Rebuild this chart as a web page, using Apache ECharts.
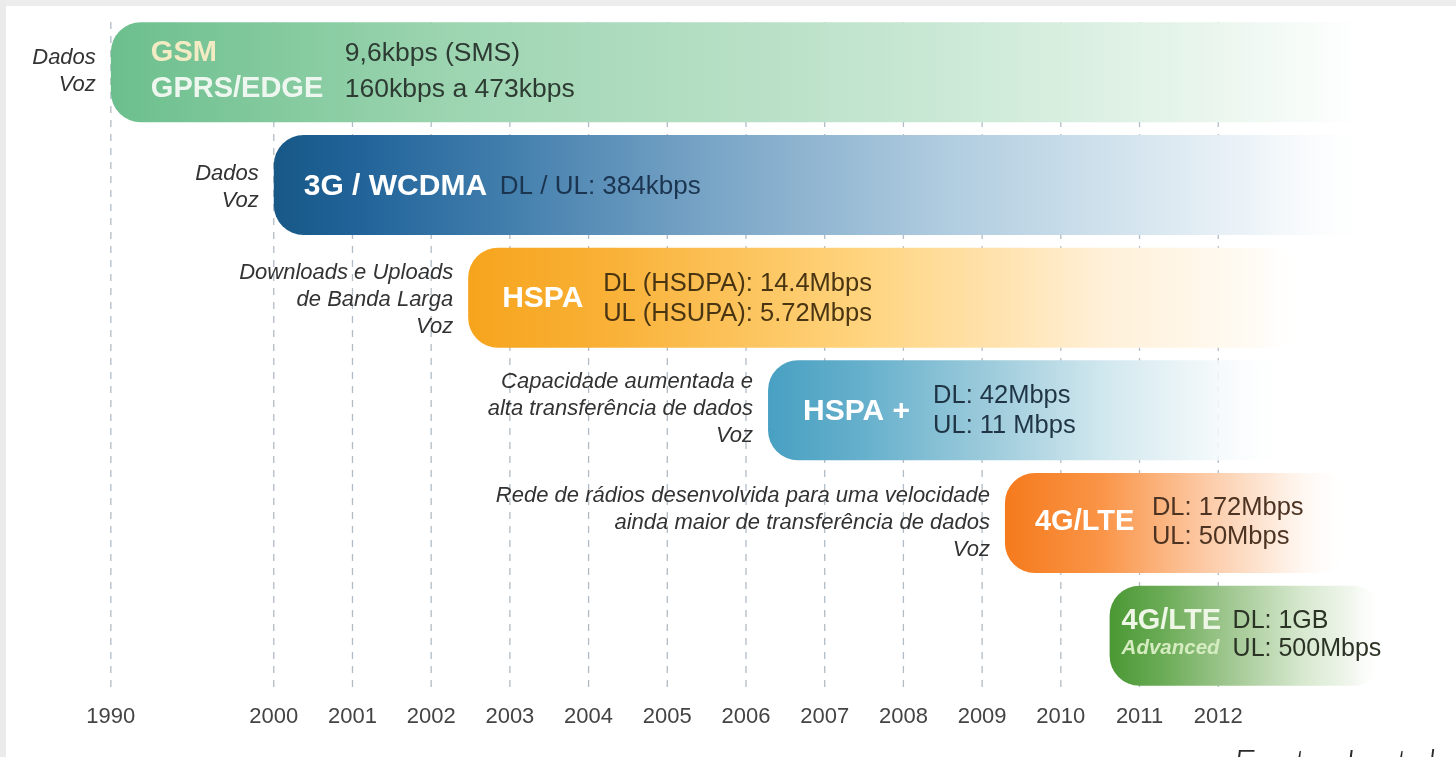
<!DOCTYPE html>
<html><head><meta charset="utf-8">
<script src="https://cdn.jsdelivr.net/npm/echarts@6/dist/echarts.min.js"></script>
<style>html,body{margin:0;padding:0;background:#fff}#c{width:1456px;height:757px}</style>
</head><body><div id="c"></div><script>
// ---- data ----
const tickYears = [1990, 2000, 2001, 2002, 2003, 2004, 2005, 2006, 2007, 2008, 2009, 2010, 2011, 2012];
const techIds = ['GSM', '3G', 'HSPA', 'HSPA+', '4G/LTE', '4G/LTE Advanced'];
const techNames = [['GSM', 'GPRS/EDGE'], ['3G / WCDMA'], ['HSPA'], ['HSPA +'], ['4G/LTE'], ['4G/LTE', 'Advanced']];
const speeds = [
  ['9,6kbps (SMS)', '160kbps a 473kbps'],
  ['DL / UL: 384kbps'],
  ['DL (HSDPA): 14.4Mbps', 'UL (HSUPA): 5.72Mbps'],
  ['DL: 42Mbps', 'UL: 11 Mbps'],
  ['DL: 172Mbps', 'UL: 50Mbps'],
  ['DL: 1GB', 'UL: 500Mbps']
];
const services = [
  ['Dados', 'Voz'],
  ['Dados', 'Voz'],
  ['Downloads e Uploads', 'de Banda Larga', 'Voz'],
  ['Capacidade aumentada e', 'alta transferência de dados', 'Voz'],
  ['Rede de rádios desenvolvida para uma velocidade', 'ainda maior de transferência de dados', 'Voz'],
  []
];
const startYears = [1990, 2000, 2002.47, 2006.28, 2009.29, 2010.62];
const endYears = [2014.2, 2014.1, 2013.1, 2013, 2013.7, 2014.1];

// ---- styles (separate from data) ----
const FONT = '"Liberation Sans", Arial, Helvetica, sans-serif';
const barStyles = [
  { stops: [[0, '#6cbf8d'], [0.27, '#9dd5b1'], [0.5, '#b8e0c6'], [0.66, '#cbe9d6'], [0.85, '#e8f5ec'], [0.95, '#fafdfb'], [1, 'rgba(255,255,255,0)']],
    titleColors: ['#f3ebc4', '#eef7ef'], titleFonts: [[29, 'normal'], [29, 'normal']], titleDx: 40, specDx: 234, gap: 36, shift: -1, spec: '#2d3b33', specSize: 26.5, svcShift: -1 },
  { stops: [[0, '#175887'], [0.08, '#22649a'], [0.2, '#3f7cab'], [0.39, '#78a4c6'], [0.61, '#b1cde0'], [0.75, '#cfe1ec'], [0.89, '#eff5f9'], [1, 'rgba(255,255,255,0)']],
    titleColors: ['#ffffff'], titleFonts: [[30, 'normal']], titleDx: 30, specDx: 226, gap: 30, shift: 2, spec: '#1b3550', specSize: 26, svcShift: 2 },
  { stops: [[0, '#f6a41d'], [0.16, '#f9b035'], [0.47, '#ffd47e'], [0.64, '#ffe3b0'], [0.76, '#fff0d8'], [0.94, '#fffbf4'], [1, 'rgba(255,255,255,0)']],
    titleColors: ['#ffffff'], titleFonts: [[30, 'normal']], titleDx: 34, specDx: 135, gap: 30, shift: 1, spec: '#4a3512', specSize: 25.5, svcShift: 2 },
  { stops: [[0, '#48a0c2'], [0.18, '#66b0cc'], [0.44, '#a2cedd'], [0.64, '#d2e8ef'], [0.83, '#f2f8fa'], [1, 'rgba(255,255,255,0)']],
    titleColors: ['#ffffff'], titleFonts: [[30, 'normal']], titleDx: 35, specDx: 165, gap: 30, shift: 1, spec: '#1f3444', specSize: 25.5, svcShift: -1 },
  { stops: [[0, '#f57a1c'], [0.28, '#fa9548'], [0.57, '#fcc9a4'], [0.8, '#feeee2'], [1, 'rgba(255,255,255,0)']],
    titleColors: ['#ffffff'], titleFonts: [[29, 'normal']], titleDx: 30, specDx: 147, gap: 29, shift: -1, spec: '#4d3322', specSize: 25.5, svcShift: 0 },
  { stops: [[0, '#4a9834'], [0.19, '#6aab55'], [0.46, '#a5ca96'], [0.7, '#d6e8ce'], [0.89, '#f2f7ef'], [1, 'rgba(255,255,255,0)']],
    titleColors: ['#eef6e6', '#d5ecc0'], titleFonts: [[29, 'normal'], [20.5, 'italic']], titleDx: 12, specDx: 123, gap: 28, shift: -1, spec: '#2b3325', specSize: 25, svcShift: 0 }
];

// compressed scale before 2000 (the 1990 tick sits close to 2000)
function toAxis(y) { return y < 2000 ? 2000 - (2000 - y) * 0.207 : y; }
const tickPos = tickYears.map(toAxis);

function renderLine(params, api) {
  const cs = params.coordSys;
  const x = api.coord([api.value(0), 0])[0];
  return { type: 'line', shape: { x1: x, y1: cs.y + 6, x2: x, y2: cs.y + cs.height - 3 },
    style: { stroke: '#b2bcc6', lineWidth: 1.3, lineDash: [7, 7] } };
}

function renderBar(params, api) {
  const i = api.value(0);
  const s = barStyles[i];
  const pL = api.coord([api.value(1), i]);
  const pR = api.coord([api.value(2), i]);
  const band = api.size([0, 1])[1];
  const h = band * 0.888;
  const x0 = pL[0], cy = pL[1];
  const children = [];
  children.push({
    type: 'rect',
    shape: { x: x0, y: cy - h / 2, width: pR[0] - x0, height: h, r: 30 },
    style: { fill: new echarts.graphic.LinearGradient(0, 0, 1, 0, s.stops.map(st => ({ offset: st[0], color: st[1] }))) }
  });
  const tn = techNames[i];
  tn.forEach((t, k) => {
    const off = (k - (tn.length - 1) / 2) * s.gap + s.shift;
    children.push({ type: 'text', x: x0 + s.titleDx, y: cy + off,
      style: { text: t, fill: s.titleColors[k], fontSize: s.titleFonts[k][0], fontStyle: s.titleFonts[k][1], fontWeight: 'bold', fontFamily: FONT, align: 'left', verticalAlign: 'middle' } });
  });
  const sp = speeds[i];
  sp.forEach((t, k) => {
    const off = (k - (sp.length - 1) / 2) * s.gap + s.shift;
    children.push({ type: 'text', x: x0 + s.specDx, y: cy + off,
      style: { text: t, fill: s.spec, fontSize: s.specSize, fontFamily: FONT, align: 'left', verticalAlign: 'middle' } });
  });
  const sv = services[i];
  sv.forEach((t, k) => {
    const off = (k - (sv.length - 1) / 2) * 27 + s.svcShift;
    children.push({ type: 'text', x: x0 - 15, y: cy + off,
      style: { text: t, fill: '#333333', fontSize: 22, fontStyle: 'italic', fontFamily: FONT, align: 'right', verticalAlign: 'middle' } });
  });
  return { type: 'group', children };
}

const chart = echarts.init(document.getElementById('c'), null, { renderer: 'canvas' });
chart.setOption({
  animation: false,
  backgroundColor: '#ffffff',
  grid: { left: 77, right: 41, top: 16, bottom: 65 },
  xAxis: {
    type: 'value', min: 1997.5, max: 2014.5,
    axisLine: { show: false }, axisTick: { show: false }, splitLine: { show: false },
    axisLabel: {
      customValues: tickPos,
      formatter: v => { const k = tickPos.findIndex(p => Math.abs(p - v) < 1e-6); return k >= 0 ? String(tickYears[k]) : ''; },
      fontSize: 22, color: '#444', margin: 14, fontFamily: FONT
    }
  },
  yAxis: { type: 'category', data: techIds, inverse: true, show: false },
  graphic: [
    { type: 'rect', left: 0, top: 0, shape: { width: 1456, height: 6 }, style: { fill: '#ededed' }, silent: true },
    { type: 'rect', left: 0, top: 0, shape: { width: 6, height: 757 }, style: { fill: '#ebebeb' }, silent: true },
    { type: 'text', left: 1233, top: 745, style: { text: 'Fonte: Inatel', fill: '#2a2a2a', fontSize: 40, fontStyle: 'italic', fontWeight: 300, fontFamily: 'Lato, "Open Sans", sans-serif' }, silent: true }
  ],
  series: [
    { type: 'custom', silent: true, renderItem: renderLine, encode: { x: 0 }, data: tickPos.map(p => [p]), z: 1, clip: false },
    { type: 'custom', silent: true, renderItem: renderBar, encode: { x: [1, 2], y: 0 },
      data: techIds.map((_, i) => [i, toAxis(startYears[i]), toAxis(endYears[i])]), z: 2, clip: false }
  ]
});
</script></body></html>
